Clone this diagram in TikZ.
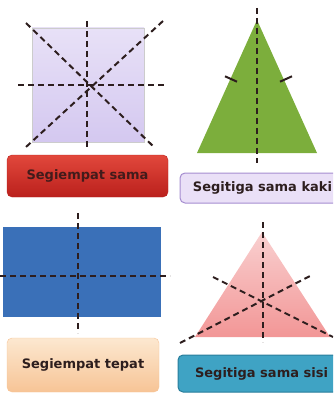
\documentclass[tikz,border=0pt]{standalone}
\usepackage{fontspec}
\setmainfont{DejaVu Sans}
\definecolor{cSq}{RGB}{212,200,240}
\definecolor{cSqT}{RGB}{232,225,247}
\definecolor{cGreen}{RGB}{124,174,60}
\definecolor{cBlue}{RGB}{58,112,184}
\definecolor{cPinkT}{RGB}{249,208,208}
\definecolor{cPinkB}{RGB}{242,150,150}
\definecolor{cRedT}{RGB}{226,72,60}
\definecolor{cRedB}{RGB}{186,32,28}
\definecolor{cPurF}{RGB}{234,224,247}
\definecolor{cPurD}{RGB}{165,141,208}
\definecolor{cOrT}{RGB}{252,232,208}
\definecolor{cOrB}{RGB}{247,196,150}
\definecolor{cTeal}{RGB}{63,163,196}
\definecolor{cTealD}{RGB}{40,125,155}
\definecolor{cInk}{RGB}{45,30,30}
\tikzset{
  cut/.style={dash pattern=on 6pt off 4pt,line width=2pt,cInk},
  tick/.style={line width=2pt,cInk},
  namebox/.style={rounded corners=5pt,inner sep=0pt,font=\bfseries\fontsize{13}{15}\selectfont,text=cInk}
}
\begin{document}
\begin{tikzpicture}[x=1pt,y=-1pt]
\useasboundingbox (0,0) rectangle (333,398);
\clip (0,0) rectangle (333,398);
\shade[top color=cSqT,bottom color=cSq,draw=gray!40] (32,28) rectangle (144,142);
\draw[cut] (18,85) -- (165,85);
\draw[cut] (87,21) -- (87,147);
\draw[cut] (26,23) -- (155,148);
\draw[cut] (163,21) -- (26,147);
\fill[cGreen] (257,20) -- (317,153) -- (197,153) -- cycle;
\draw[cut] (257,8) -- (257,163);
\draw[tick] (225,76.3) -- (237,81.7);
\draw[tick] (280,81.7) -- (292,76.3);
\fill[cBlue] (3,227) rectangle (161,317);
\draw[cut] (78,213) -- (78,333);
\draw[cut] (0,276) -- (170,276);
\shade[top color=cPinkT,bottom color=cPinkB] (262,232) -- (330,337) -- (195,337) -- cycle;
\draw[cut] (263,222) -- (263,342);
\draw[cut] (180,343) -- (310,276);
\draw[cut] (213,277) -- (333,337);
\node[namebox,top color=cRedT,bottom color=cRedB,draw=cRedB,minimum width=161pt,minimum height=42pt,text=cInk!90!red] (sama) at (87.5,176) {Segiempat sama};
\node[namebox,fill=cPurF,draw=cPurD,line width=1pt,minimum width=165pt,minimum height=30pt] (kaki) at (262.5,188) {Segitiga sama kaki};
\node[namebox,top color=cOrT,bottom color=cOrB,draw=cOrB,minimum width=152pt,minimum height=54pt] (tepat) at (83,365) {Segiempat tepat};
\node[namebox,fill=cTeal,draw=cTealD,line width=1pt,minimum width=167pt,minimum height=37pt] (sisi) at (261.5,373.5) {Segitiga sama sisi};
\end{tikzpicture}
\end{document}
